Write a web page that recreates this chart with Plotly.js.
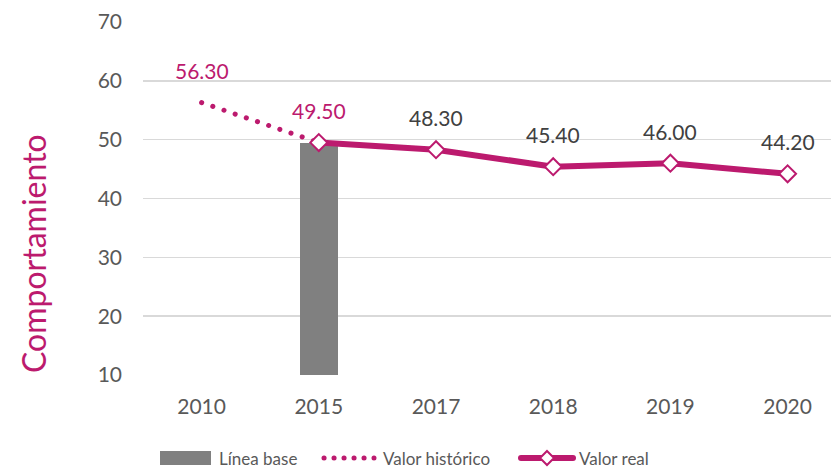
<!DOCTYPE html>
<html>
<head>
<meta charset="utf-8">
<script src="https://cdn.plot.ly/plotly-3.0.1.min.js"></script>
<style>
html,body{margin:0;padding:0;background:#fff;}
#chart{width:831px;height:468px;}
#chart .scatterlayer path.js-line{stroke-linecap:round;stroke-linejoin:round;}
#chart .layer-above .shapelayer path{stroke-linecap:round;}
</style>
</head>
<body>
<div id="chart"></div>
<script>
// ---- data ----
var categories = ["2010", "2015", "2017", "2018", "2019", "2020"];
var baseCategories = ["2015"];
var baseValues = [49.5];
var histCategories = ["2010", "2015"];
var histValues = [56.3, 49.5];
var realCategories = ["2015", "2017", "2018", "2019", "2020"];
var realValues = [49.5, 48.3, 45.4, 46.0, 44.2];
var realLabelCategories = ["2017", "2018", "2019", "2020"];
var realLabelValues = [48.3, 45.4, 46.0, 44.2];
var yTicks = [10, 20, 30, 40, 50, 60, 70];
var seriesNames = ["Línea base", "Valor histórico", "Valor real"];
var yTitle = "Comportamiento";

// ---- style ----
var MAG = "#BC1A6E";
var GREY_BAR = "#808080";
var FONT = "Lato, 'Open Sans', sans-serif";
var W = 831, H = 468, ML = 143, MR = 0, MT = 22, MB = 93;
var PW = W - ML - MR, PH = H - MT - MB;
function px(x) { return (x - ML) / PW; }
function py(y) { return (H - MB - y) / PH; }

var traces = [
  { type: "bar", name: seriesNames[0], x: baseCategories, y: baseValues,
    width: 0.32, marker: { color: GREY_BAR }, showlegend: false, hoverinfo: "x+y" },
  { type: "scatter", mode: "lines", name: seriesNames[1], x: histCategories, y: histValues,
    line: { color: MAG, width: 5, dash: "0.1px,11.7px" }, showlegend: false },
  { type: "scatter", mode: "lines+markers", name: seriesNames[2], x: realCategories, y: realValues,
    line: { color: MAG, width: 6 },
    marker: { symbol: "diamond", size: 13, color: "#ffffff", line: { color: MAG, width: 2 } },
    showlegend: false }
];

var annotations = [];
histCategories.forEach(function (c, i) {
  annotations.push({ x: categories.indexOf(c), y: histValues[i], xref: "x", yref: "y", text: histValues[i].toFixed(2),
    showarrow: false, yanchor: "middle", yshift: 32, font: { family: FONT, size: 21, color: MAG } });
});
realLabelCategories.forEach(function (c, i) {
  annotations.push({ x: categories.indexOf(c), y: realLabelValues[i], xref: "x", yref: "y", text: realLabelValues[i].toFixed(2),
    showarrow: false, yanchor: "middle", yshift: 32, font: { family: FONT, size: 21, color: "#404040" } });
});
// y title
annotations.push({ x: px(33), y: py(254), xref: "paper", yref: "paper", text: yTitle, textangle: -90,
  showarrow: false, xanchor: "center", yanchor: "middle", font: { family: FONT, size: 32, color: MAG } });

// manual legend
var LY = 458;
var legendFont = { family: FONT, size: 17, color: "#595959" };
[[218, 0], [382, 1], [578, 2]].forEach(function (p) {
  annotations.push({ x: px(p[0]), y: py(LY), xref: "paper", yref: "paper", text: seriesNames[p[1]], showarrow: false,
    xanchor: "left", yanchor: "middle", borderpad: 0, font: legendFont });
});

var shapes = [
  { type: "rect", xref: "paper", yref: "paper", x0: px(160), x1: px(211), y0: py(LY - 7), y1: py(LY + 7),
    fillcolor: GREY_BAR, line: { width: 0 } },
  { type: "line", xref: "paper", yref: "paper", x0: px(324), x1: px(374), y0: py(LY), y1: py(LY),
    line: { color: MAG, width: 5, dash: "0.1px,9.9px" } },
  { type: "line", xref: "paper", yref: "paper", x0: px(521), x1: px(573), y0: py(LY), y1: py(LY),
    line: { color: MAG, width: 6 } },
  { type: "path", xref: "paper", yref: "paper",
    path: "M" + px(547) + "," + py(LY - 7) + " L" + px(554) + "," + py(LY) + " L" + px(547) + "," + py(LY + 7) +
          " L" + px(540) + "," + py(LY) + " Z",
    fillcolor: "#ffffff", line: { color: MAG, width: 2 } }
];

var layout = {
  width: W, height: H,
  margin: { l: ML, r: MR, t: MT, b: MB, pad: 0 },
  paper_bgcolor: "#ffffff", plot_bgcolor: "#ffffff",
  showlegend: false,
  xaxis: { type: "category", categoryorder: "array", categoryarray: categories,
    range: [-0.5, -0.5 + PW / 117.2], showgrid: false, zeroline: false, showline: false,
    ticks: "", ticklabelstandoff: 17, tickfont: { family: FONT, size: 21, color: "#595959" }, fixedrange: true },
  yaxis: { range: [10, 70], tickvals: yTicks, showgrid: true, gridcolor: "#d9d9d9", gridwidth: 1.5,
    zeroline: false, showline: false, ticks: "", ticklabelstandoff: 20,
    tickfont: { family: FONT, size: 21, color: "#595959" }, fixedrange: true },
  annotations: annotations,
  shapes: shapes,
  bargap: 0
};

Plotly.newPlot("chart", traces, layout, { displayModeBar: false, staticPlot: true });
</script>
</body>
</html>
